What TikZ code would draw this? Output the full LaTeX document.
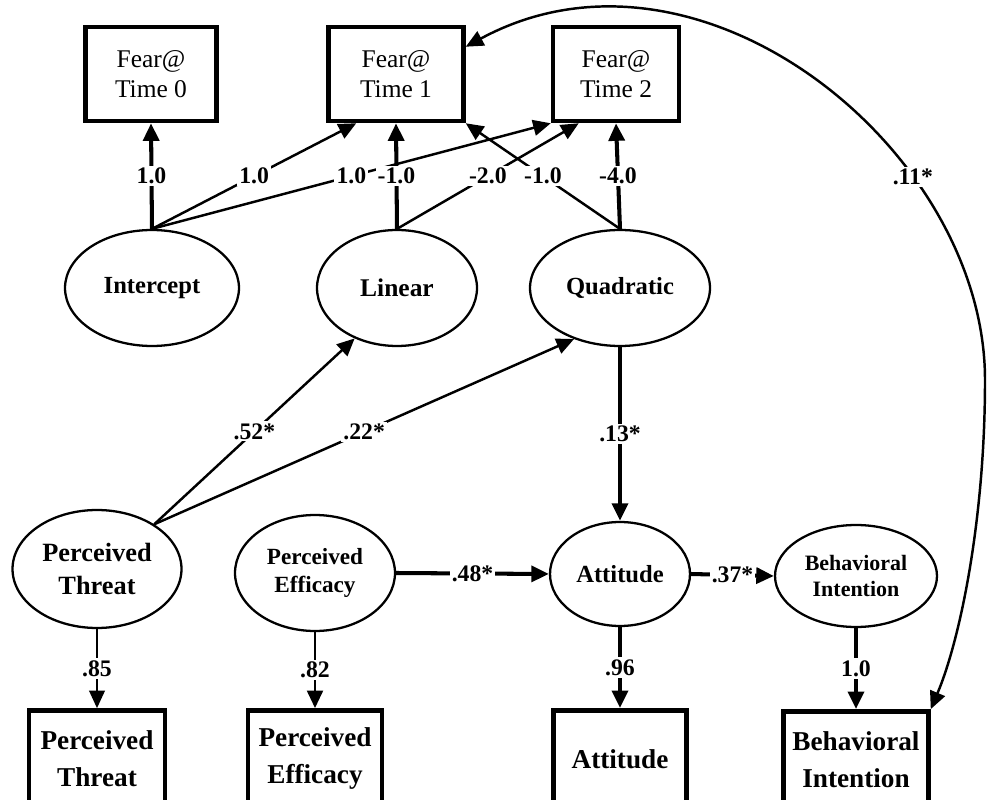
\documentclass[tikz,border=0pt]{standalone}
\usepackage{fontspec}
\setmainfont{Liberation Serif}
\usetikzlibrary{positioning, arrows.meta, shapes.geometric}

\begin{document}
\begin{tikzpicture}[
    x=0.02cm, y=-0.02cm,
    % --- STILURI ---
    fearBox/.style={
            draw,
            line width=2.6pt,
            minimum width=2.62cm,
            minimum height=1.88cm,
            align=center,
            inner sep=2pt,
            font=\fontsize{14.5}{17}\selectfont
        },
    obsBox/.style={
            fearBox,
            minimum height=1.94cm,
            font=\fontsize{15.5}{21}\selectfont\bfseries
        },
    latent/.style={
            draw,
            ellipse,
            line width=1.3pt,
            align=center,
            inner sep=0pt,
            minimum height=2.32cm,
            font=\fontsize{14}{16}\selectfont\bfseries
        },
    pathArrow/.style={
    -{Triangle[length=10pt,width=9pt]},
    line width=1.4pt
    },
    mainArrow/.style={
    pathArrow,
    line width=2.3pt
    },
    coef/.style={
            midway,
            fill=white,
            inner sep=1.2pt,
            font=\fontsize{13.5}{15}\selectfont\bfseries
        }
    ]

    \useasboundingbox (0,0) rectangle (987,800);
    \clip (0,0) rectangle (987,800);

    % 1. Indicatorii Fear (sus)
    \node[fearBox] (f0) at (151,74) {Fear@\\Time 0};
    \node[fearBox, minimum width=2.7cm] (f1) at (396,74) {Fear@\\Time 1};
    \node[fearBox, minimum width=2.52cm] (f2) at (616,74) {Fear@\\Time 2};

    % 2. Factorii de crestere
    \node[latent, minimum width=3.48cm] (icpt) at (152,288) {Intercept};
    \node[latent, minimum width=3.2cm, font=\fontsize{14.5}{16}\selectfont\bfseries] (lin) at (397,288) {Linear};
    \node[latent, minimum width=3.6cm] (quad) at (620,288) {Quadratic};

    % 3. Variabilele latente de jos
    \node[latent, minimum width=3.38cm, minimum height=2.36cm, font=\fontsize{15}{18.5}\selectfont\bfseries] (pt) at (97,569) {Perceived\\Threat};
    \node[latent, minimum width=3.2cm, font=\fontsize{13.2}{16}\selectfont\bfseries] (pe) at (315,573) {Perceived\\Efficacy};
    \node[latent, minimum width=2.8cm, minimum height=2.08cm] (att) at (620,574) {Attitude};
    \node[latent, minimum width=3.24cm, minimum height=2.04cm, font=\fontsize{12.5}{15}\selectfont\bfseries] (bi) at (856,576) {Behavioral\\Intention};

    % Indicatorii observati, sub fiecare latenta
    \node[obsBox, minimum width=2.72cm, below=1.58cm of pt] (ptBox) {Perceived\\Threat};
    \node[obsBox, minimum width=2.68cm, below=1.52cm of pe] (peBox) {Perceived\\Efficacy};
    \node[obsBox, minimum width=2.66cm, below=1.62cm of att] (attBox) {Attitude};
    \node[obsBox, minimum width=2.9cm, below=1.62cm of bi] (biBox) {Behavioral\\Intention};

    % 4. Incarcari pe Fear
    \draw[mainArrow] (icpt.north) -- node[coef] {1.0} (f0.south);
    \draw[pathArrow] (icpt.north) -- node[coef] {1.0} ([xshift=0.6cm]f1.south west);
    \draw[pathArrow] (icpt.north) -- node[coef] {1.0} (f2.south west);
    \draw[mainArrow] (lin.north) -- node[coef] {-1.0} (f1.south);
    \draw[pathArrow] (lin.north) -- node[coef] {-2.0} ([xshift=0.56cm]f2.south west);
    \draw[pathArrow] (quad.north) -- node[coef] {-1.0} (f1.south east);
    \draw[mainArrow] (quad.north) -- node[coef] {-4.0} (f2.south);

    % 5. Caile structurale
    \draw[pathArrow] (pt.38) -- node[coef] {.52*} (lin.230);
    \draw[pathArrow] (pt.38) -- node[coef] {.22*} (quad.228);
    \draw[mainArrow] (quad.south) -- node[coef] {.13*} (att.north);
    \draw[mainArrow] (pe.east) -- node[coef] {.48*} (att.west);
    \draw[mainArrow] (att.east) -- node[coef] {.37*} (bi.west);

    % 6. Catre indicatorii de jos
    \draw[pathArrow, line width=0.9pt] (pt.south) -- node[coef] {.85} (ptBox.north);
    \draw[pathArrow, line width=1.6pt] (pe.south) -- node[coef] {.82} (peBox.north);
    \draw[mainArrow] (att.south) -- node[coef] {.96} (attBox.north);
    \draw[mainArrow] (bi.south) -- node[coef] {1.0} (biBox.north);

    % Covarianta (arc mare pe dreapta)
    \draw[{Triangle[length=10pt,width=9pt]}-{Triangle[length=10pt,width=9pt]}, line width=1.4pt]
        ([yshift=-0.44cm]f1.north east) .. controls (700,-80) and (985,150) .. (985,380)
        node[coef, pos=0.69] {.11*}
        .. controls (985,520) and (960,640) .. (biBox.north east);

\end{tikzpicture}
\end{document}
